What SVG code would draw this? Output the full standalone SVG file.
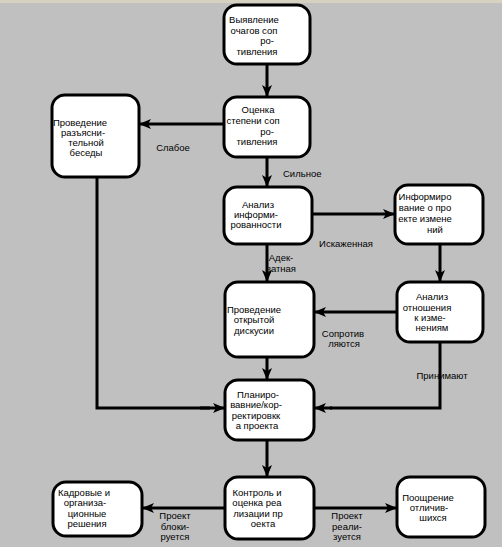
<svg xmlns="http://www.w3.org/2000/svg" width="502" height="547" viewBox="0 0 502 547">
<style>
.node rect{fill:#fff;stroke:#000;stroke-width:3}
text{font-family:"Liberation Sans",Arial,sans-serif;font-size:9.5px;fill:#000;text-anchor:middle}
.lbl text{font-size:9.5px}
#connectors path{fill:none;stroke:#000;stroke-width:3;marker-end:url(#ah)}
#connectors path.plain{marker-end:none}
</style>
<defs>
<marker id="ah" markerUnits="userSpaceOnUse" markerWidth="12" markerHeight="12" viewBox="0 0 12 12" refX="11" refY="6" orient="auto">
<path d="M0,1 L12,6 L0,11 L3,6 z" fill="#000"/>
</marker>
</defs>
<rect width="502" height="547" fill="#c0c0c0"/>
<rect width="502" height="3" fill="#d6d2c2"/>
<g class="lbl">
<text x="173" y="151">Слабое</text>
<text x="283" y="177" style="text-anchor:start">Сильное</text>
<text x="346" y="247">Искаженная</text>
<text x="281" y="261">Адек-</text>
<text x="281" y="272">ватная</text>
<text x="343" y="337">Сопротив</text>
<text x="344" y="347">ляются</text>
<text x="442" y="379">Принимают</text>
<text x="175" y="519">Проект</text>
<text x="175" y="530">блоки-</text>
<text x="175" y="540">руется</text>
<text x="347" y="519">Проект</text>
<text x="347" y="530">реали-</text>
<text x="347" y="540">зуется</text>
</g>
<g id="connectors">
<path d="M267,64 V96"/>
<path d="M223,124 H140"/>
<path d="M267,157 V186"/>
<path d="M312,214 H394"/>
<path d="M267,244 V281"/>
<path d="M440,244 V281"/>
<path d="M397,312 H315"/>
<path d="M267,357 V379"/>
<path class="plain" d="M440,342 V408 H330"/>
<path d="M332,408 H315"/>
<path class="plain" d="M97,177 V408 H210"/>
<path d="M200,408 H224"/>
<path d="M267,440 V476"/>
<path d="M225,508 H143"/>
<path d="M314,508 H396"/>
</g>
<g id="n1" class="node"><rect x="224" y="5" width="86" height="59" rx="13"/>
<text x="254" y="23">Выявление</text><text x="254" y="34">очагов соп</text><text x="267" y="44">ро-</text><text x="257" y="55">тивления</text></g>
<g id="n2" class="node"><rect x="224" y="97" width="86" height="60" rx="13"/>
<text x="258" y="113">Оценка</text><text x="253" y="124">степени соп</text><text x="267" y="135">ро-</text><text x="257" y="145">тивления</text></g>
<g id="n3" class="node"><rect x="52" y="95" width="87" height="82" rx="13"/>
<text x="80" y="126">Проведение</text><text x="83" y="136">разъясни-</text><text x="86" y="146">тельной</text><text x="86" y="156">беседы</text></g>
<g id="n4" class="node"><rect x="224" y="187" width="88" height="57" rx="13"/>
<text x="258" y="208">Анализ</text><text x="256" y="218">информи-</text><text x="256" y="228">рованности</text></g>
<g id="n5" class="node"><rect x="395" y="185" width="88" height="59" rx="13"/>
<text x="425" y="200">Информиро</text><text x="425" y="211">вание о про</text><text x="425" y="222">екте измене</text><text x="435" y="233">ний</text></g>
<g id="n6" class="node"><rect x="225" y="282" width="89" height="75" rx="13"/>
<text x="254" y="313">Проведение</text><text x="254" y="323">открытой</text><text x="254" y="334">дискусии</text></g>
<g id="n7" class="node"><rect x="397" y="282" width="86" height="60" rx="13"/>
<text x="432" y="300">Анализ</text><text x="427" y="311">отношения</text><text x="430" y="321">к изме-</text><text x="432" y="331">нениям</text></g>
<g id="n8" class="node"><rect x="225" y="380" width="89" height="60" rx="13"/>
<text x="258" y="398">Планиро-</text><text x="256" y="408">вавние/кор-</text><text x="256" y="419">ректировкк</text><text x="257" y="429">а проекта</text></g>
<g id="n9" class="node"><rect x="225" y="477" width="89" height="62" rx="13"/>
<text x="257" y="496">Контроль и</text><text x="257" y="506">оценка реа</text><text x="258" y="517">лизации пр</text><text x="263" y="527">оекта</text></g>
<g id="n10" class="node"><rect x="53" y="482" width="89" height="54" rx="13"/>
<text x="84" y="496">Кадровые и</text><text x="85" y="506">организа-</text><text x="87" y="517">ционные</text><text x="87" y="527">решения</text></g>
<g id="n11" class="node"><rect x="397" y="477" width="88" height="60" rx="13"/>
<text x="428" y="501">Поощрение</text><text x="429" y="511">отличив-</text><text x="433" y="521">шихся</text></g>
</svg>
